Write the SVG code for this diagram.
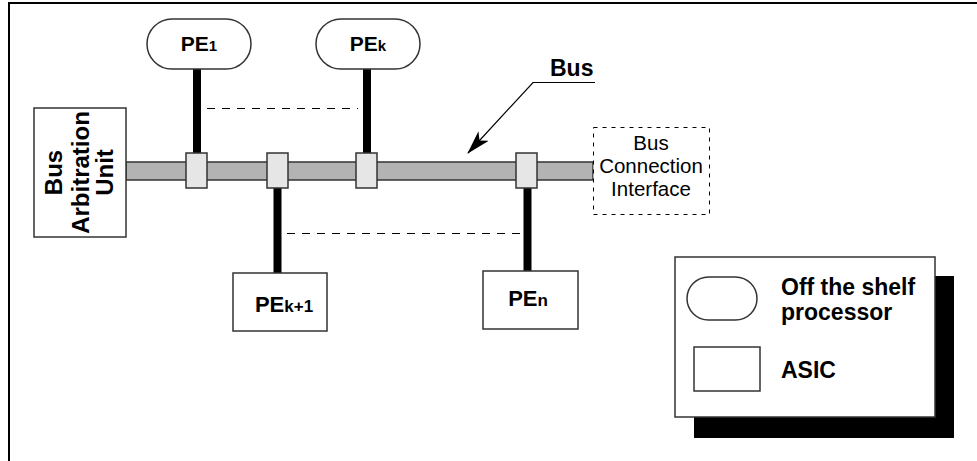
<svg xmlns="http://www.w3.org/2000/svg" width="977" height="461" viewBox="0 0 977 461">
<style>
text{font-family:"Liberation Sans",Arial,sans-serif;fill:#000}
.b{font-weight:bold}
.conn{fill:#e6e6e6;stroke:#333;stroke-width:1.5}
.stem{stroke:#000;stroke-width:8;fill:none}
.dash{stroke:#000;stroke-width:1;stroke-dasharray:8,7;fill:none}
.node{fill:#fff;stroke:#333;stroke-width:1.5}
</style>
<defs>
<marker id="ah" markerWidth="24" markerHeight="14" refX="23" refY="7" orient="auto" markerUnits="userSpaceOnUse">
<path d="M0,0 L24,7 L0,14 L6,7 Z" fill="#000"/>
</marker>
</defs>
<rect x="0" y="0" width="977" height="461" fill="#fff"/>
<rect id="frame" x="9" y="3" width="990" height="480" fill="none" stroke="#000" stroke-width="2"/>

<g id="connectors">
<line class="stem" x1="197" y1="69" x2="197" y2="154"/>
<line class="stem" x1="367" y1="69" x2="367" y2="154"/>
<line class="stem" x1="277.5" y1="187" x2="277.5" y2="273"/>
<line class="stem" x1="527.5" y1="187" x2="527.5" y2="271"/>
<line class="dash" x1="207" y1="108.5" x2="358" y2="108.5"/>
<line class="dash" x1="287" y1="233.5" x2="522" y2="233.5"/>
<polyline points="595,82.5 533,82.5 468,153" fill="none" stroke="#000" stroke-width="1.2" marker-end="url(#ah)"/>
</g>

<g id="bus">
<rect x="126" y="162" width="467" height="18" fill="#b3b3b3" stroke="#333" stroke-width="1.5"/>
<text class="b" x="550" y="76" font-size="23">Bus</text>
</g>

<g id="taps">
<rect class="conn" x="186" y="153" width="21" height="35"/>
<rect class="conn" x="267" y="153" width="21" height="35"/>
<rect class="conn" x="356" y="153" width="21" height="35"/>
<rect class="conn" x="516" y="153" width="21" height="35"/>
</g>

<g id="abu">
<rect class="node" x="34" y="108" width="92" height="129"/>
<g transform="translate(0,172.5) rotate(-90)">
<text class="b" x="0" y="62" font-size="24" text-anchor="middle">Bus</text>
<text class="b" x="0" y="89" font-size="24" text-anchor="middle">Arbitration</text>
<text class="b" x="0" y="113" font-size="24" text-anchor="middle">Unit</text>
</g>
</g>

<g id="pe1">
<rect class="node" x="147" y="19" width="104" height="50" rx="25" ry="25"/>
<text class="b" x="199" y="51" font-size="21" text-anchor="middle">PE<tspan font-size="15">1</tspan></text>
</g>

<g id="pek">
<rect class="node" x="316" y="19" width="104" height="50" rx="25" ry="25"/>
<text class="b" x="368" y="51" font-size="21" text-anchor="middle">PE<tspan font-size="15">k</tspan></text>
</g>

<g id="pek1">
<rect class="node" x="233" y="273" width="94" height="58"/>
<text class="b" x="284" y="312" font-size="22" text-anchor="middle">PE<tspan font-size="17">k+1</tspan></text>
</g>

<g id="pen">
<rect class="node" x="483" y="271" width="95" height="58"/>
<text class="b" x="528" y="306" font-size="22" text-anchor="middle">PE<tspan font-size="17">n</tspan></text>
</g>

<g id="bci">
<rect x="593.5" y="127.5" width="116" height="87" fill="#fff" stroke="#000" stroke-width="1" stroke-dasharray="4,5"/>
<text x="651" y="150" font-size="20.5" text-anchor="middle">Bus</text>
<text x="651" y="173" font-size="20.5" text-anchor="middle">Connection</text>
<text x="651" y="196" font-size="20.5" text-anchor="middle">Interface</text>
</g>

<g id="legend">
<rect x="694" y="276" width="260" height="162" fill="#000"/>
<rect class="node" x="675" y="257" width="260" height="160"/>
<rect class="node" x="687" y="277" width="70" height="43" rx="21.5" ry="21.5"/>
<rect class="node" x="694" y="347" width="66" height="44"/>
<text class="b" x="781" y="295" font-size="23">Off the shelf</text>
<text class="b" x="781" y="320" font-size="23">processor</text>
<text class="b" x="781" y="378" font-size="23">ASIC</text>
</g>
</svg>
